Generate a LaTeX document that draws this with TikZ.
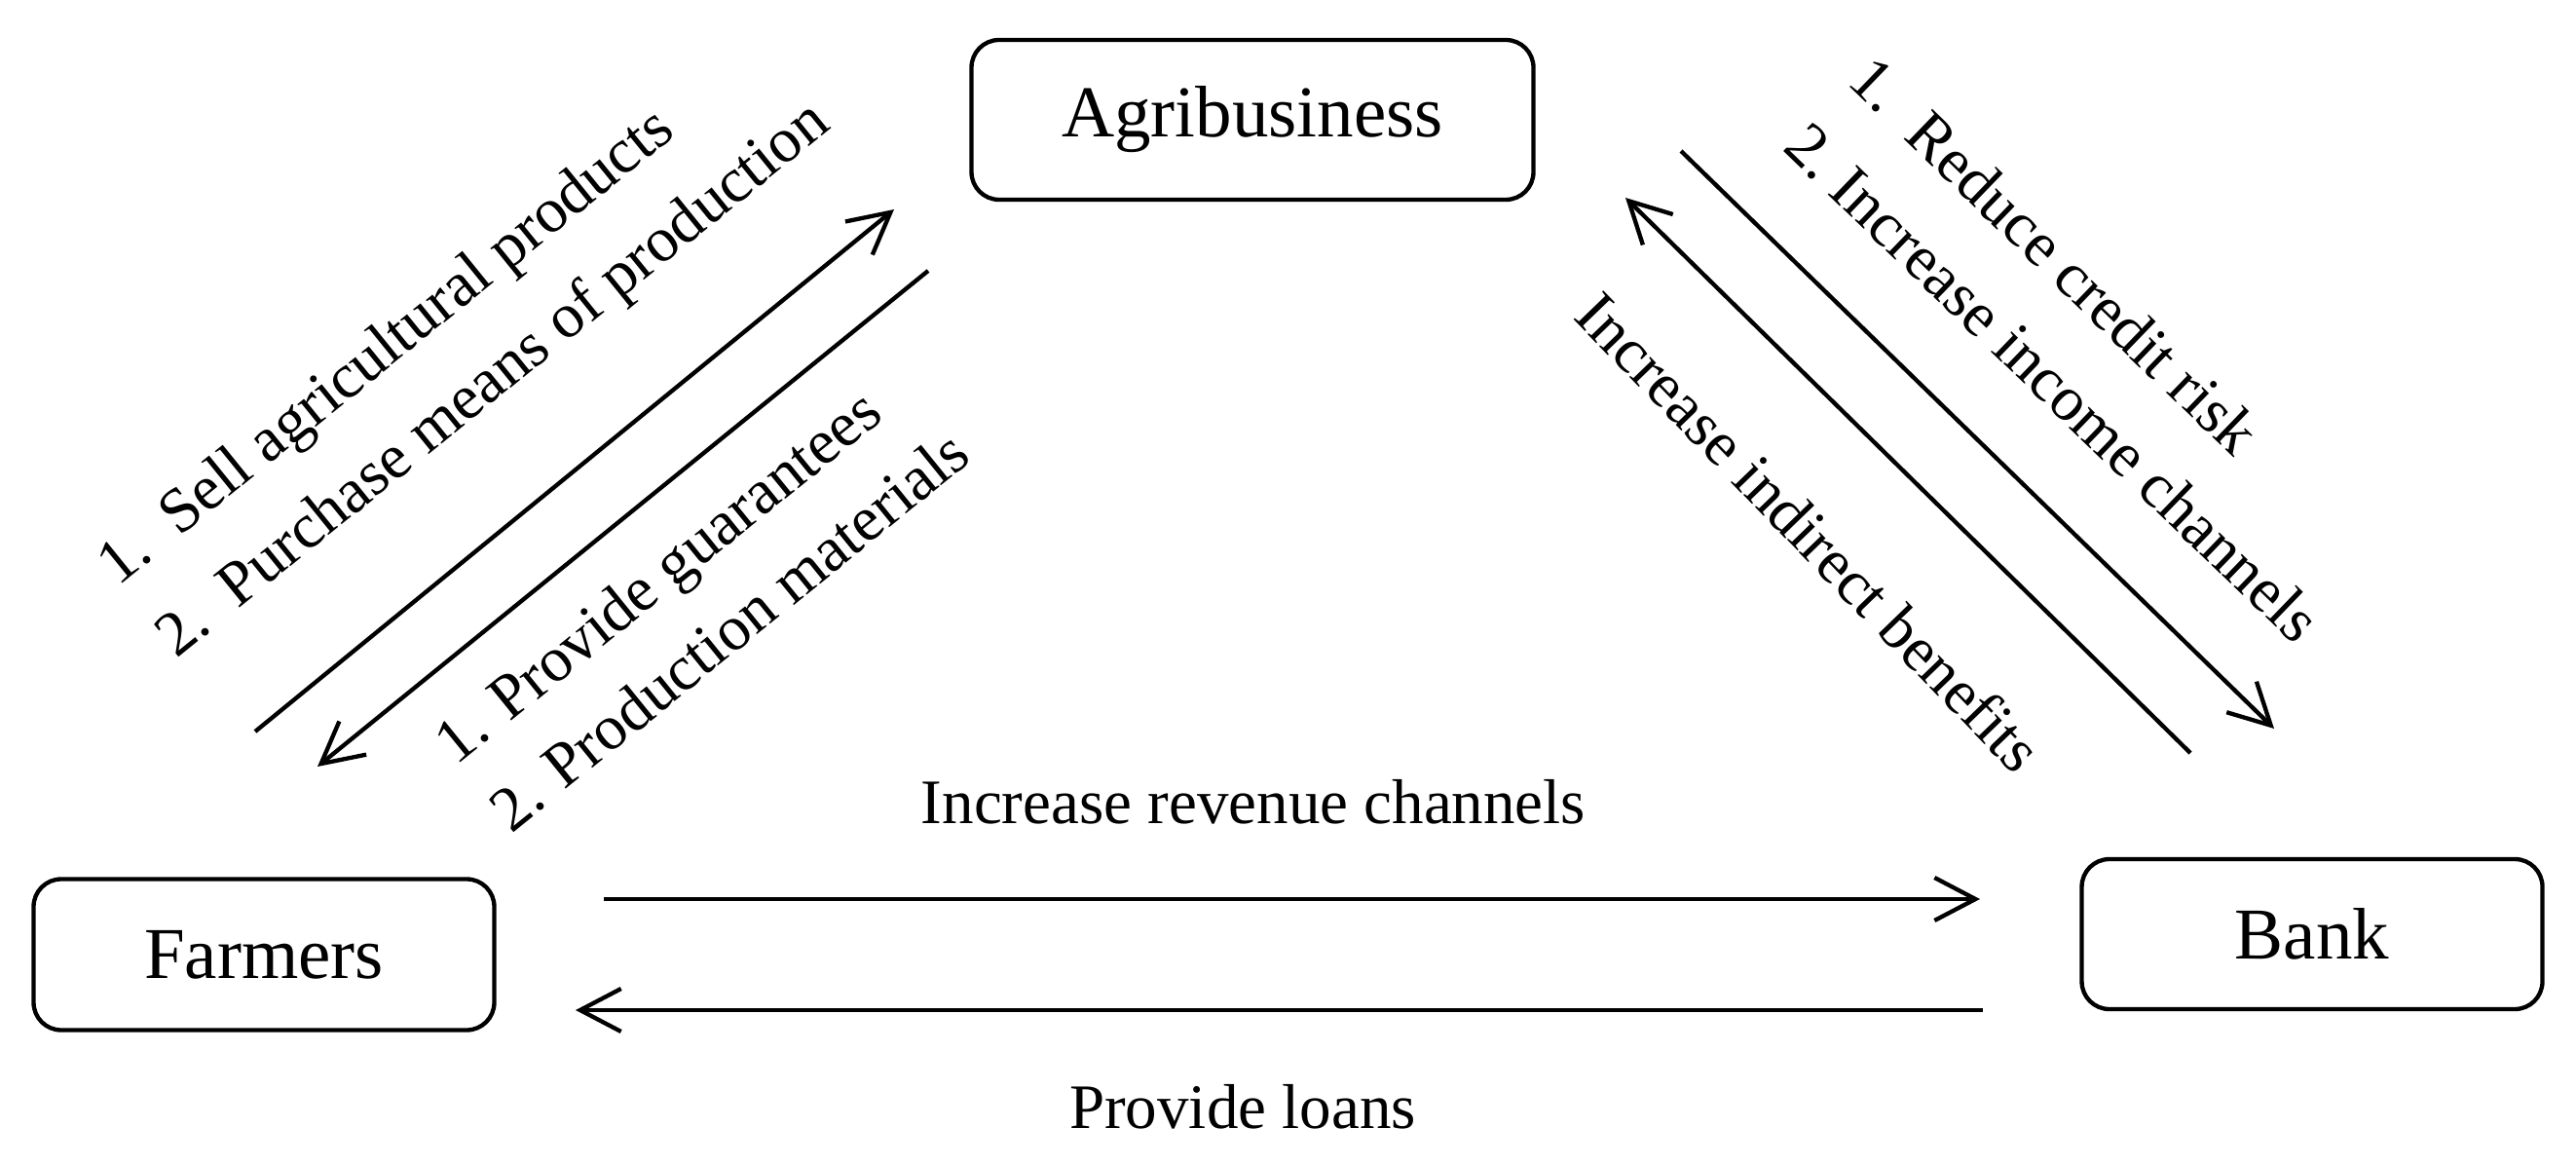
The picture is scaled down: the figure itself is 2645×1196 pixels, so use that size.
\documentclass[tikz,border=0pt]{standalone}
\usepackage{fontspec}
\setmainfont{Liberation Serif}
\usetikzlibrary{arrows.meta}
\begin{document}
\begin{tikzpicture}[x=0.3pt,y=-0.3pt,
  box/.style={draw,line width=1.3pt,rounded corners=8.5pt,inner sep=0pt,
    font=\fontsize{22.5}{27}\selectfont},
  flow/.style={line width=1.3pt,-{Straight Barb[length=12.6pt,width=13.2pt,line width=1.3pt]}},
  lbl/.style={inner sep=0pt,align=left,font=\fontsize{19.5}{28.5}\selectfont},
  lblb/.style={inner sep=0pt,align=left,font=\fontsize{19.5}{27}\selectfont}]
\useasboundingbox (0,0) rectangle (2645,1196);
% boxes
\node[box,minimum width=173.1pt,minimum height=49.2pt] (agri) at (1286,123) {Agribusiness};
\node[box,minimum width=141.9pt,minimum height=46.5pt] (farm) at (271,980) {Farmers};
\node[box,minimum width=141.9pt,minimum height=46.2pt] (bank) at (2374,959) {Bank};
% arrow end points
\coordinate (fa1) at (262,751);  \coordinate (fa2) at (918,215);
\coordinate (af1) at (953,278);  \coordinate (af2) at (326,787);
\coordinate (ab1) at (1726,155); \coordinate (ab2) at (2335,748);
\coordinate (ba1) at (2249,773); \coordinate (ba2) at (1669,203);
\coordinate (fb1) at (620,923);  \coordinate (fb2) at (2033,923);
\coordinate (bf1) at (2036,1037); \coordinate (bf2) at (591,1037);
% arrows
\draw[flow] (fa1) -- (fa2);
\draw[flow] (af1) -- (af2);
\draw[flow] (ab1) -- (ab2);
\draw[flow] (ba1) -- (ba2);
\draw[flow] (fb1) -- (fb2);
\draw[flow] (bf1) -- (bf2);
% labels
\node[lbl,rotate=39] (l1) at (478,355) {1.\ \ Sell agricultural products\\2.\ \ Purchase means of production};
\node[lblb,rotate=39] (l2) at (720,612) {1. Provide guarantees\\2. Production materials};
\node[lbl,rotate=-44] (l3) at (2141,358) {1.\ \ Reduce credit risk\\2.\ Increase income channels};
\node[lbl,rotate=-46] (l4) at (1858,546) {Increase indirect benefits};
\node[lbl,anchor=base] (l5) at (1287,845) {Increase revenue channels};
\node[lbl,anchor=base] (l6) at (1276,1158) {Provide loans};
\end{tikzpicture}
\end{document}
